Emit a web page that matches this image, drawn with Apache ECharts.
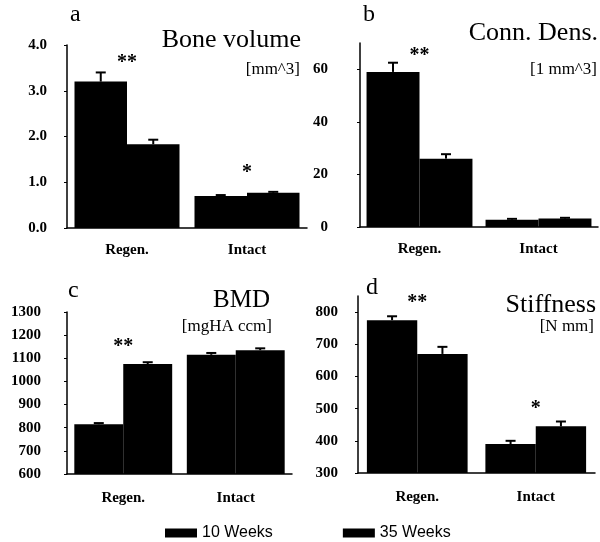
<!DOCTYPE html>
<html><head><meta charset="utf-8">
<script src="https://cdn.jsdelivr.net/npm/echarts@6/dist/echarts.min.js"></script>
<style>html,body{margin:0;padding:0;background:#fff}#c{width:600px;height:542px}</style>
</head><body><div id="c"></div>
<script>
// ---- data ----
const categories = ['Regen.', 'Intact'];
const seriesNames = ['10 Weeks', '35 Weeks'];

const boneVol10 = [3.2, 0.70];
const boneVol35 = [1.83, 0.77];
const boneVolErr10 = [0.2, 0.02];
const boneVolErr35 = [0.1, 0.02];
const boneVolStars = ['**', '*'];
const boneVolStarY = [3.6, 1.2];

const connDens10 = [59, 2.8];
const connDens35 = [26, 3.2];
const connDensErr10 = [3.5, 0.3];
const connDensErr35 = [1.7, 0.3];
const connDensStars = ['**', ''];
const connDensStarY = [65, 10];

const bmd10 = [815, 1115];
const bmd35 = [1075, 1135];
const bmdErr10 = [5, 8];
const bmdErr35 = [8, 8];
const bmdStars = ['**', ''];
const bmdStarY = [1150, 1200];

const stiff10 = [775, 390];
const stiff35 = [670, 445];
const stiffErr10 = [12, 10];
const stiffErr35 = [22, 15];
const stiffStars = ['**', '*'];
const stiffStarY = [830, 500];

// ---- panels ----
const panels = [
  {v10: boneVol10, v35: boneVol35, e10: boneVolErr10, e35: boneVolErr35, stars: boneVolStars, starY: boneVolStarY,
   grid: {left: 67, top: 45, width: 240, height: 183}, gap: 0.125, min: 0, max: 4, interval: 1, dec: 1, lblMargin: 20, catMargin: 15, showMax: true},
  {v10: connDens10, v35: connDens35, e10: connDensErr10, e35: connDensErr35, stars: connDensStars, starY: connDensStarY,
   grid: {left: 360, top: 43, width: 238, height: 184}, gap: 0.11, min: 0, max: 70, interval: 20, dec: 0, lblMargin: 32, catMargin: 15, showMax: false},
  {v10: bmd10, v35: bmd35, e10: bmdErr10, e35: bmdErr35, stars: bmdStars, starY: bmdStarY,
   grid: {left: 67, top: 312, width: 225, height: 162}, gap: 0.13, min: 600, max: 1300, interval: 100, dec: 0, lblMargin: 26, catMargin: 17, showMax: true},
  {v10: stiff10, v35: stiff35, e10: stiffErr10, e35: stiffErr35, stars: stiffStars, starY: stiffStarY,
   grid: {left: 358, top: 296, width: 237, height: 177}, gap: 0.15, min: 300, max: 850, interval: 100, dec: 0, lblMargin: 20, catMargin: 17, showMax: false}
];

function errRender(gap) {
  return function (params, api) {
    const ci = api.value(0), v = api.value(1), e = api.value(2), side = api.value(3);
    const band = api.size([1, 0])[0];
    const bw = band * (1 - gap) / 2;
    const c = api.coord([ci, v]);
    const x = c[0] + side * bw / 2;
    const top = api.coord([ci, v + e])[1];
    return {type: 'group', children: [
      {type: 'line', shape: {x1: x, y1: c[1], x2: x, y2: top}, style: {stroke: '#000', lineWidth: 2}},
      {type: 'line', shape: {x1: x - 5, y1: top, x2: x + 5, y2: top}, style: {stroke: '#000', lineWidth: 2}}
    ]};
  };
}
const starTexts = {};
function starRender(params, api) {
  const ci = api.value(0), y = api.value(1);
  const c = api.coord([ci, y]);
  return {type: 'text', x: c[0], y: c[1], style: {text: String((starTexts[params.seriesIndex] || [])[params.dataIndex] || ''), fill: '#000', font: 'bold 20px "Liberation Serif"', align: 'center', verticalAlign: 'middle'}};
}

const serif = '"Liberation Serif", "DejaVu Serif", serif';
const grids = [], xAxes = [], yAxes = [], series = [];
panels.forEach((p, i) => {
  grids.push(p.grid);
  xAxes.push({type: 'category', gridIndex: i, data: categories,
    axisLine: {lineStyle: {color: '#000', width: 1.5}}, axisTick: {show: false},
    axisLabel: {color: '#000', fontFamily: serif, fontWeight: 'bold', fontSize: 15, margin: p.catMargin}});
  yAxes.push({type: 'value', gridIndex: i, min: p.min, max: p.max, interval: p.interval,
    axisLine: {show: true, lineStyle: {color: '#000', width: 1.5}},
    axisTick: {show: true, length: 3, lineStyle: {color: '#000'}}, splitLine: {show: false},
    axisLabel: {color: '#000', fontFamily: serif, fontWeight: 'bold', fontSize: 15, margin: p.lblMargin,
      showMaxLabel: p.showMax, formatter: v => v.toFixed(p.dec)}});
  series.push({name: seriesNames[0], type: 'bar', xAxisIndex: i, yAxisIndex: i, data: p.v10,
    barGap: '0%', barCategoryGap: (p.gap * 100) + '%', itemStyle: {color: '#000'}});
  series.push({name: seriesNames[1], type: 'bar', xAxisIndex: i, yAxisIndex: i, data: p.v35,
    barGap: '0%', barCategoryGap: (p.gap * 100) + '%', itemStyle: {color: '#000'}});
  const errData = [];
  p.v10.forEach((v, k) => errData.push([k, v, p.e10[k], -1]));
  p.v35.forEach((v, k) => errData.push([k, v, p.e35[k], 1]));
  series.push({type: 'custom', name: 'err' + i, xAxisIndex: i, yAxisIndex: i, renderItem: errRender(p.gap), data: errData, z: 5});
  starTexts[series.length] = p.stars;
  series.push({type: 'custom', name: 'stars' + i, xAxisIndex: i, yAxisIndex: i, renderItem: starRender,
    data: p.starY.map((y, k) => [k, y]), z: 6});
});

function txt(x, y, text, size, align) {
  return {type: 'text', x: x, y: y, style: {text: text, fill: '#000', font: size + 'px ' + serif, align: align || 'left', verticalAlign: 'middle'}};
}
const graphics = [
  txt(70, 15, 'a', 24), txt(363, 15, 'b', 24), txt(68, 291, 'c', 24), txt(366, 288, 'd', 24),
  txt(301, 40, 'Bone volume', 26, 'right'), txt(300, 70, '[mm^3]', 17, 'right'),
  txt(598, 33, 'Conn. Dens.', 26, 'right'), txt(597, 70, '[1 mm^3]', 17, 'right'),
  txt(270, 300, 'BMD', 25, 'right'), txt(272, 327, '[mgHA ccm]', 17, 'right'),
  txt(596, 305, 'Stiffness', 26, 'right'), txt(594, 327, '[N mm]', 17, 'right')
];

const chart = echarts.init(document.getElementById('c'), null, {renderer: 'canvas'});
chart.setOption({
  animation: false,
  backgroundColor: '#fff',
  grid: grids, xAxis: xAxes, yAxis: yAxes, series: series,
  legend: {data: seriesNames, left: 160, top: 520, icon: 'rect', itemWidth: 32, itemHeight: 9, itemGap: 70,
    textStyle: {color: '#000', fontFamily: '"Liberation Sans", Arial, sans-serif', fontSize: 16}},
  graphic: graphics
});
</script></body></html>
